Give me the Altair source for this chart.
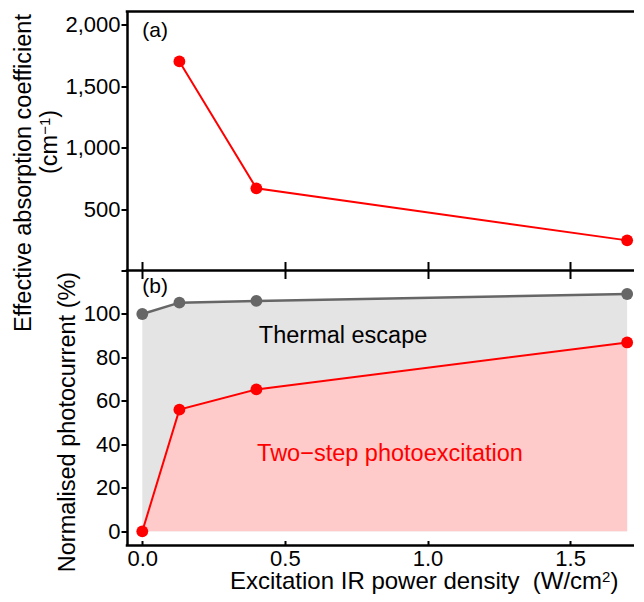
import altair as alt
import pandas as pd

# ---------------- data ----------------
# panel (a): effective absorption coefficient vs IR power density
a_power = [0.13, 0.40, 1.70]
a_coeff = [1700, 668, 245]

# panel (b): normalised photocurrent
b_power = [0.0, 0.13, 0.40, 1.70]
b_total = [100.0, 105.2, 106.0, 109.2]      # grey: total (thermal escape on top)
b_twostep = [0.0, 56.0, 65.3, 86.9]         # red: two-step photoexcitation

x_ticks = [0.0, 0.5, 1.0, 1.5]
a_ticks = [0, 500, 1000, 1500, 2000]
b_ticks = [0, 20, 40, 60, 80, 100]

panel_labels = ["(a)", "(b)"]
panel_label_x = [0.0, 0.0]
panel_label_y = [1898, 109.7]

region_text = ["Thermal escape", "Two\u2212step photoexcitation"]
region_x = [0.704, 0.8685]
region_y = [86.8, 32.5]

# ---------------- layout / style ----------------
W, H1, H2 = 507, 259, 275
PX_PER_UNIT = 285.2
X_DOMAIN = [-15.3 / PX_PER_UNIT, (W - 15.3) / PX_PER_UNIT]
A_DOMAIN = [0, 2106]
B_DOMAIN = [-6.5, 120]
FONT = "Liberation Sans"
RED = "#ff0000"
GREY = "#666666"
LW = 2.5
TFS = 23.5      # y titles / annotations
XFS = 24        # x title
SUP = 15        # superscripts

xs = alt.Scale(domain=X_DOMAIN, nice=False, zero=False)
ya = alt.Scale(domain=A_DOMAIN, nice=False, zero=False)
yb = alt.Scale(domain=B_DOMAIN, nice=False, zero=False)

df_a = pd.DataFrame({"x": a_power, "y": a_coeff})
df_b = pd.DataFrame({"x": b_power, "total": b_total, "two": b_twostep})
one = pd.DataFrame({"k": [0]})


def txt(s, x, y, size, angle=0, color="black", align="left"):
    kw = dict(text=s, align=align, baseline="alphabetic", font=FONT,
              fontSize=size, color=color)
    if angle:
        kw["angle"] = angle
    return alt.Chart(one).mark_text(**kw).encode(x=alt.value(x), y=alt.value(y))


def rule(y):
    return alt.Chart(one).mark_rule(color="black", strokeWidth=LW).encode(
        x=alt.value(-1.25), x2=alt.value(W), y=alt.value(y))


# ---------------- top panel (a) ----------------
x_axis_a = alt.Axis(values=x_ticks, labels=False, title=None, domain=False,
                    ticks=True, tickSize=17, tickWidth=2, tickColor="black",
                    offset=-9, grid=False)
y_axis_a = alt.Axis(values=a_ticks,
                    labelExpr="datum.value == 0 ? '' : format(datum.value, ',')",
                    title="Effective absorption coefficient",
                    titleX=-97, titleY=161, titleAngle=270, titleAlign="center",
                    titleBaseline="alphabetic",
                    tickSize=6, tickWidth=2, tickColor="black", labelPadding=1,
                    domainWidth=LW, domainColor="black", grid=False)

base_a = alt.Chart(df_a).encode(
    x=alt.X("x:Q", scale=xs, axis=x_axis_a),
    y=alt.Y("y:Q", scale=ya, axis=y_axis_a),
)
line_a = base_a.mark_line(color=RED, strokeWidth=2)
pts_a = base_a.mark_circle(color=RED, size=140, opacity=1)

# second line of the y title: (cm^-1), rotated, reading upwards
u_y0 = 162.5
unit_1 = txt("(cm", -70, u_y0, TFS, angle=270)
unit_2 = txt("\u22121", -77, u_y0 - 39.2, SUP, angle=270)
unit_3 = txt(")", -70, u_y0 - 39.2 - 17.1, TFS, angle=270)

lab_a = alt.Chart(pd.DataFrame({"t": [panel_labels[0]], "x": [panel_label_x[0]],
                                "y": [panel_label_y[0]]})).mark_text(
    align="left", baseline="alphabetic", font=FONT, fontSize=21, color="black"
).encode(x=alt.X("x:Q", scale=xs), y=alt.Y("y:Q", scale=ya), text="t:N")

top = alt.layer(line_a, pts_a, rule(0), rule(H1), lab_a,
                unit_1, unit_2, unit_3).properties(width=W, height=H1)

# ---------------- bottom panel (b) ----------------
x_axis_b = alt.Axis(values=x_ticks, format=".1f", title=None,
                    domain=False, offset=-5, tickSize=5, tickWidth=2,
                    tickColor="black", labelBaseline="alphabetic",
                    labelPadding=19.5, grid=False)
y_axis_b = alt.Axis(values=b_ticks, title="Normalised photocurrent (%)",
                    titleX=-53, titleY=151, titleAngle=270, titleAlign="center",
                    titleBaseline="alphabetic",
                    tickSize=6, tickWidth=2, tickColor="black", labelPadding=1,
                    domainWidth=LW, domainColor="black", grid=False)

base_b = alt.Chart(df_b).encode(x=alt.X("x:Q", scale=xs, axis=x_axis_b))

grey_area = base_b.mark_area(color="#e4e4e4", opacity=1).encode(
    y=alt.Y("total:Q", scale=yb, axis=y_axis_b), y2=alt.datum(0))
red_area = base_b.mark_area(color="#ffcaca", opacity=1).encode(
    y=alt.Y("two:Q", scale=yb), y2=alt.datum(0))
grey_line = base_b.mark_line(color=GREY, strokeWidth=2.5).encode(
    y=alt.Y("total:Q", scale=yb))
grey_pts = base_b.mark_circle(color=GREY, size=140, opacity=1).encode(
    y=alt.Y("total:Q", scale=yb))
red_line = base_b.mark_line(color=RED, strokeWidth=2).encode(
    y=alt.Y("two:Q", scale=yb))
red_pts = base_b.mark_circle(color=RED, size=140, opacity=1).encode(
    y=alt.Y("two:Q", scale=yb))


def data_text(i, color):
    return alt.Chart(pd.DataFrame({"t": [region_text[i]], "x": [region_x[i]],
                                   "y": [region_y[i]]})).mark_text(
        align="center", baseline="alphabetic", font=FONT, fontSize=TFS,
        color=color
    ).encode(x=alt.X("x:Q", scale=xs), y=alt.Y("y:Q", scale=yb), text="t:N")


txt_thermal = data_text(0, "black")
txt_two = data_text(1, RED)
lab_b = alt.Chart(pd.DataFrame({"t": [panel_labels[1]], "x": [panel_label_x[1]],
                                "y": [panel_label_y[1]]})).mark_text(
    align="left", baseline="alphabetic", font=FONT, fontSize=21, color="black"
).encode(x=alt.X("x:Q", scale=xs), y=alt.Y("y:Q", scale=yb), text="t:N")

# x title: "Excitation IR power density  (W/cm^2)"
xt_x0, xt_y = 103, H2 + 43
xt_main_w = 15.504 * XFS
xt_1 = txt("Excitation IR power density\u00a0 (W/cm", xt_x0, xt_y, XFS)
xt_2 = txt("2", xt_x0 + xt_main_w, xt_y - 7, SUP)
xt_3 = txt(")", xt_x0 + xt_main_w + 0.556 * SUP, xt_y, XFS)

bottom = alt.layer(grey_area, red_area, grey_line, red_line, grey_pts, red_pts,
                   txt_thermal, txt_two, lab_b, rule(H2),
                   xt_1, xt_2, xt_3).properties(width=W, height=H2)

chart = alt.vconcat(top, bottom, spacing=0, bounds="flush").properties(
    padding={"left": 3, "top": 1.5, "right": 0, "bottom": 0}
).configure_view(stroke=None).configure_axis(
    labelFont=FONT, labelFontSize=22, labelColor="black",
    titleFont=FONT, titleFontSize=TFS, titleColor="black", titleFontWeight="normal"
)

chart.save("out.html", embed_options={"renderer": "svg", "actions": False})
